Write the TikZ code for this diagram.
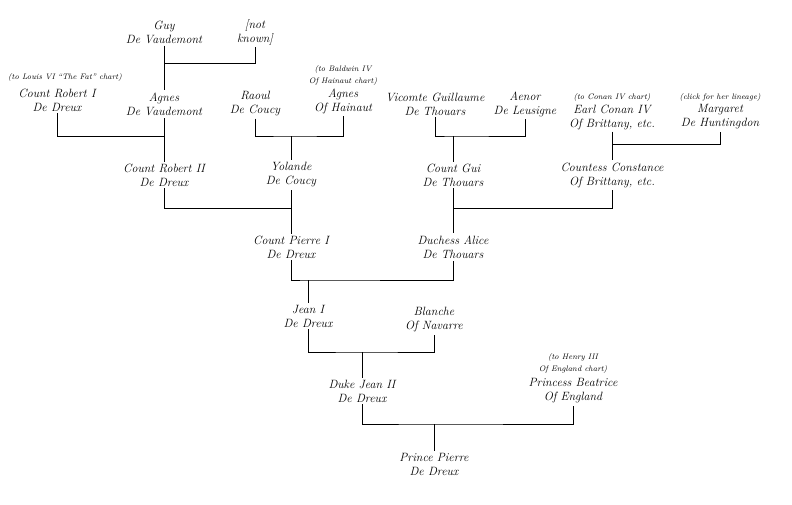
\documentclass[tikz,border=0pt]{standalone}
\usetikzlibrary{positioning}
\begin{document}
\begin{tikzpicture}[x=1pt,y=1pt,
    person/.style={align=center, inner sep=2pt,
                   font=\fontsize{12}{14}\selectfont\itshape},
    note/.style={align=center, inner sep=0pt,
                 font=\fontsize{8}{12}\selectfont\itshape},
    link/.style={line width=1pt}]
  \useasboundingbox (0,0) rectangle (792,-504);

  %--- Top row: Guy and partner ---
  \node[person] (guy)      at (164,-32)  {Guy\\De Vaudemont};
  \node[person] (notknown) at (255,-32)  {[not\\known]};

  %--- Second row ---
  \node[person] (robertI)   at (57,-100)  {Count Robert I\\De Dreux};
  \node[person] (agnesV)    at (164,-104) {Agnes\\De Vaudemont};
  \node[person] (raoul)     at (255,-104) {Raoul\\De Coucy};
  \node[person] (agnesH)    at (343,-101) {Agnes\\Of Hainaut};
  \node[person] (guillaume) at (435,-104) {Vicomte Guillaume\\De Thouars};
  \node[person] (aenor)     at (525,-104) {Aenor\\De Leusigne};
  \node[person] (conan)     at (612,-117) {Earl Conan IV\\Of Brittany, etc.};
  \node[person] (margaret)  at (720,-117) {Margaret\\De Huntingdon};

  %--- Chart notes ---
  \node[note] (louisnote)   at (65,-77)  {(to Louis VI ``The Fat'' chart)};
  \node[note] (baldwinnote) at (343,-75) {(to Baldwin IV\\Of Hainaut chart)};
  \node[note] (conannote)   at (612,-97) {(to Conan IV chart)};
  \node[note] (clicknote)   at (720,-97) {(click for her lineage)};

  %--- Third row ---
  \node[person] (robertII)  at (164,-175) {Count Robert II\\De Dreux};
  \node[person] (yolande)   at (291,-175) {Yolande\\De Coucy};
  \node[person] (gui)       at (453,-175) {Count Gui\\De Thouars};
  \node[person] (constance) at (612,-175) {Countess Constance\\Of Brittany, etc.};

  %--- Fourth row ---
  \node[person] (pierreI) at (291,-247) {Count Pierre I\\De Dreux};
  \node[person] (alice)   at (453,-247) {Duchess Alice\\De Thouars};

  %--- Fifth row ---
  \node[person] (jeanI)   at (308,-316) {Jean I\\De Dreux};
  \node[person] (blanche) at (434,-320) {Blanche\\Of Navarre};

  %--- Sixth row ---
  \node[person] (jeanII)   at (362,-391) {Duke Jean II\\De Dreux};
  \node[person] (beatrice) at (573,-391) {Princess Beatrice\\Of England};
  \node[note] (henrynote)  at (573,-363) {(to Henry III\\Of England chart)};

  %--- Last row ---
  \node[person] (pierre) at (434,-464) {Prince Pierre\\De Dreux};

  %--- Marriage bars ---
  \coordinate (m0) at (164,-63);
  \coordinate (m1) at (164,-136);
  \coordinate (m2) at (291,-136);
  \coordinate (m3) at (453,-136);
  \coordinate (m4) at (612,-144);
  \coordinate (m5) at (291,-208);
  \coordinate (m6) at (453,-208);
  \coordinate (m7) at (308,-280);
  \coordinate (m8) at (362,-352);
  \coordinate (m9) at (434,-424);

  \draw[link] (guy.south)       |- (m0) -| (notknown.south);
  \draw[link] (robertI.south)   |- (m1) -| (agnesV.south);
  \draw[link] (raoul.south)     |- (m2) -| (agnesH.south);
  \draw[link] (guillaume.south) |- (m3) -| (aenor.south);
  \draw[link] (conan.south)     |- (m4) -| (margaret.south);
  \draw[link] (robertII.south)  |- (m5) -| (yolande.south);
  \draw[link] (gui.south)       |- (m6) -| (constance.south);
  \draw[link] (pierreI.south)   |- (m7) -| (alice.south);
  \draw[link] (jeanI.south)     |- (m8) -| (blanche.south);
  \draw[link] (jeanII.south)    |- (m9) -| (beatrice.south);

  %--- Descent lines ---
  \draw[link] (m0) -- (agnesV);
  \draw[link] (m1) -- (robertII);
  \draw[link] (m2) -- (yolande);
  \draw[link] (m3) -- (gui);
  \draw[link] (m4) -- (constance);
  \draw[link] (m5) -- (pierreI);
  \draw[link] (m6) -- (alice);
  \draw[link] (m7) -- (jeanI);
  \draw[link] (m8) -- (jeanII);
  \draw[link] (m9) -- (pierre);

\end{tikzpicture}
\end{document}
